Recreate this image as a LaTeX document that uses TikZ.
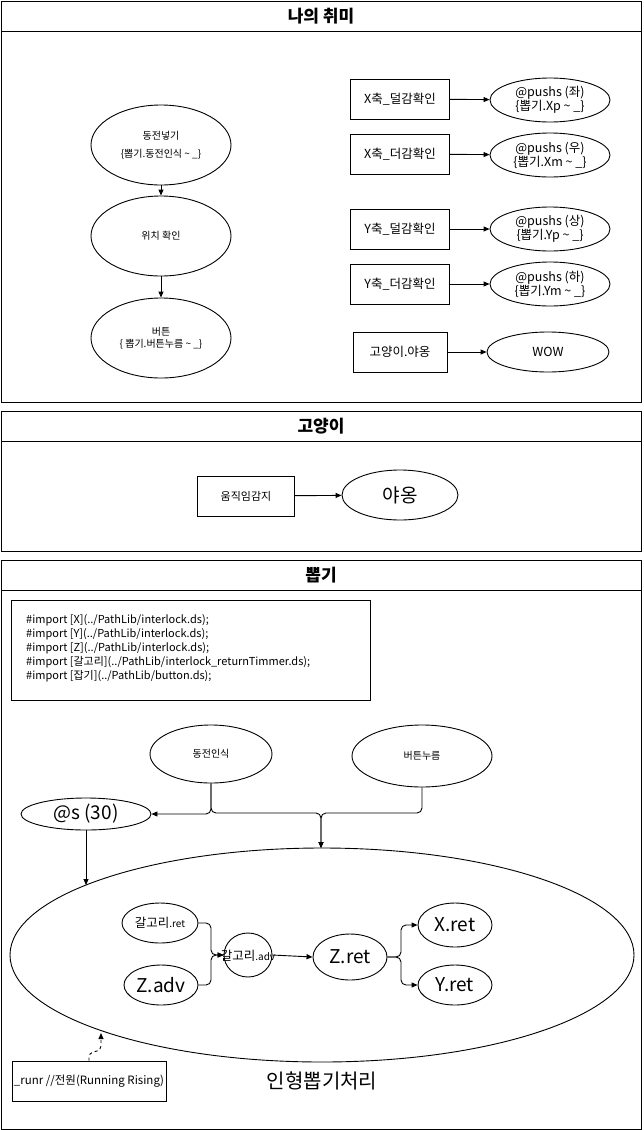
\documentclass[tikz,border=0pt]{standalone}
\usepackage{fontspec}
\setmainfont{Noto Sans CJK KR}
\usetikzlibrary{shapes.geometric,arrows.meta}
\begin{document}
\begin{tikzpicture}[x=1pt,y=-1pt,
  lw/.style={line width=0.9pt},
  cont/.style={draw,lw},
  ttl/.style={font=\fontsize{17}{20}\selectfont\bfseries},
  ell/.style={draw,lw,ellipse,inner sep=0pt,align=center},
  box/.style={draw,lw,rectangle,inner sep=0pt,align=center},
  sm/.style={font=\fontsize{10}{12}\selectfont},
  md/.style={font=\fontsize{12.5}{14}\selectfont},
  lg/.style={font=\fontsize{19}{22}\selectfont},
  arr/.style={lw,-{Triangle[length=6pt,width=5pt]}},
  conn/.style={arr,rounded corners=5pt}
]
\useasboundingbox (0,0) rectangle (643,1130);
% containers
\draw[cont] (1,1) rectangle (641,402);
\draw[cont] (1,31) -- (641,31);
\node[ttl] (t1) at (321,16) {나의 취미};
\draw[cont] (1,411) rectangle (641,551);
\draw[cont] (1,441) -- (641,441);
\node[ttl] (t2) at (321,426) {고양이};
\draw[cont] (1,560) rectangle (641,1129);
\draw[cont] (1,590) -- (641,590);
\node[ttl] (t3) at (321,575) {뽑기};

% container 1 left
\node[ell,sm,minimum width=140,minimum height=80] (coin) at (161,145) {동전넣기\\[6pt]\{뽑기.동전인식 \textasciitilde{} \_\}};
\node[ell,sm,minimum width=140,minimum height=80] (pos) at (161,236) {위치 확인};
\node[ell,sm,minimum width=140,minimum height=80] (btn) at (161,338) {버튼\\\{ 뽑기.버튼누름 \textasciitilde{} \_\}};
\draw[arr] (coin) -- (pos);
\draw[arr] (pos) -- (btn);

% container 1 right
\node[box,md,minimum width=99,minimum height=40] (xd1) at (400,99) {X축\_덜감확인};
\node[ell,md,minimum width=120,minimum height=44] (px1) at (550,100) {@pushs (좌)\\\{뽑기.Xp \textasciitilde{} \_\}};
\node[box,md,minimum width=99,minimum height=40] (xd2) at (400,154) {X축\_더감확인};
\node[ell,md,minimum width=120,minimum height=44] (px2) at (550,155) {@pushs (우)\\\{뽑기.Xm \textasciitilde{} \_\}};
\node[box,md,minimum width=99,minimum height=40] (yd1) at (400,229) {Y축\_덜감확인};
\node[ell,md,minimum width=120,minimum height=44] (py1) at (550,229) {@pushs (상)\\\{뽑기.Yp \textasciitilde{} \_\}};
\node[box,md,minimum width=99,minimum height=40] (yd2) at (400,284) {Y축\_더감확인};
\node[ell,md,minimum width=120,minimum height=44] (py2) at (550,284) {@pushs (하)\\\{뽑기.Ym \textasciitilde{} \_\}};
\node[box,md,minimum width=94,minimum height=40] (cat) at (400,352) {고양이.야옹};
\node[ell,md,minimum width=122,minimum height=40] (wow) at (548,352) {WOW};
\draw[arr] (xd1) -- (px1);
\draw[arr] (xd2) -- (px2);
\draw[arr] (yd1) -- (py1);
\draw[arr] (yd2) -- (py2);
\draw[arr] (cat) -- (wow);

% container 2
\node[box,font=\fontsize{11}{13}\selectfont,minimum width=97,minimum height=40] (mv) at (246,496) {움직임감지};
\node[ell,lg,minimum width=116,minimum height=50] (ya) at (400,495) {야옹};
\draw[arr] (mv) -- (ya);

% container 3
\node[box,minimum width=359,minimum height=100] (code) at (190.5,650) {};
\node[anchor=west,align=left,font=\fontsize{11}{14}\selectfont,inner sep=0pt] (codetxt) at (26,648)
{\#import [X](../PathLib/interlock.ds);\\
\#import [Y](../PathLib/interlock.ds);\\
\#import [Z](../PathLib/interlock.ds);\\
\#import [갈고리](../PathLib/interlock\_returnTimmer.ds);\\
\#import [잡기](../PathLib/button.ds);};

\node[ell,sm,minimum width=122,minimum height=58] (cr) at (211,754) {동전인식};
\node[ell,sm,minimum width=140,minimum height=62] (bp) at (422,756) {버튼누름};
\node[ell,lg,minimum width=130,minimum height=32] (s30) at (86,814) {@s (30)};
\node[ell,minimum width=624,minimum height=214] (big) at (322,955) {};
\node[font=\fontsize{20}{24}\selectfont] (bigl) at (322,1081) {인형뽑기처리};
\coordinate (mid) at (321,813);
\draw[conn] (cr.south) |- (s30.east);
\draw[conn] (cr.south) |- (mid) -- (321,848);
\draw[conn] (bp.south) |- (mid) -- (321,848);
\draw[arr] (s30.south) -- (86,885);

\node[ell,md,minimum width=76,minimum height=40] (gr) at (160,923) {갈고리{\fontsize{10}{12}\selectfont.ret}};
\node[ell,lg,minimum width=74,minimum height=40] (za) at (161,985) {Z.adv};
\node[ell,md,minimum width=48,minimum height=44] (ga) at (248,955) {};
\node[md,inner sep=0pt] (gatxt) at (248,956) {갈고리{\fontsize{10}{12}\selectfont.adv}};
\node[ell,lg,minimum width=74,minimum height=46] (zr) at (350,957) {Z.ret};
\node[ell,lg,minimum width=74,minimum height=44] (xr) at (455,925) {X.ret};
\node[ell,lg,minimum width=74,minimum height=40] (yr) at (455,985) {Y.ret};
\draw[conn] (gr.east) -- (211,923) |- (ga.west);
\draw[conn] (za.east) -- (211,985) |- (ga.west);
\draw[arr] (ga.east) -- (zr.west);
\draw[conn] (zr.east) -- (401,957) |- (xr.west);
\draw[conn] (zr.east) -- (401,957) |- (yr.west);

\node[box,font=\fontsize{11.5}{13}\selectfont,minimum width=154,minimum height=40] (runr) at (89,1081) {\_runr //전원(Running Rising)};
\draw[arr,dashed,rounded corners=4pt] (runr.north) -- (89,1053) -- (101,1050) -- (101,1033);
\end{tikzpicture}
\end{document}
